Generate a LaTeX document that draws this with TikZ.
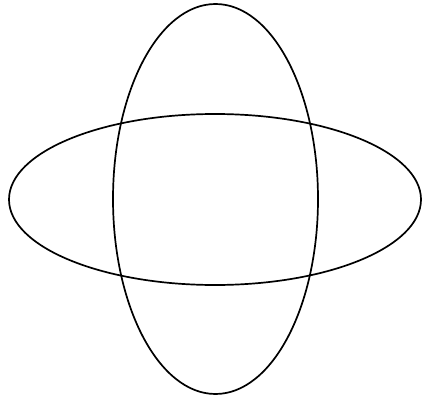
\documentclass[tikz,border=0pt]{standalone}
\usepackage{tikz}
\tikzset{
    ring/.style={draw=black, line width=1.7pt},
}
\begin{document}
\begin{tikzpicture}[x=1pt, y=-1pt]
    \useasboundingbox (0,0) rectangle (422,398);
    % Wide ellipse
    \draw[ring] (215,199.5) ellipse [x radius=206, y radius=85.5];
    % Tall ellipse
    \draw[ring] (215.5,199) ellipse [x radius=102.5, y radius=195];
\end{tikzpicture}
\end{document}
